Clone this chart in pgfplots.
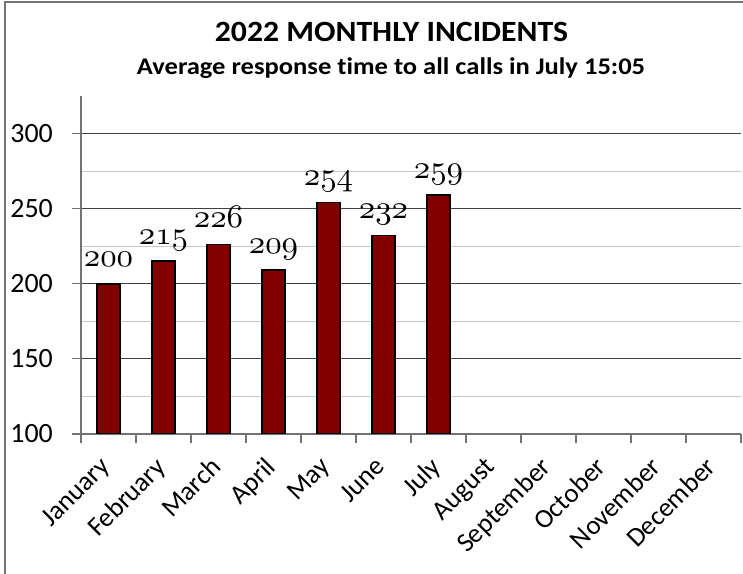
\documentclass[border=0pt]{standalone}
\usepackage{pgfplots}
\pgfplotsset{compat=1.18}
\usepackage{graphicx}
\usepackage{fontspec}
\setmainfont{Carlito}[Ligatures=NoCommon]
\newfontfamily\titlefont{Carlito}[FakeStretch=1.08, Ligatures=NoCommon]
\newfontfamily\subfont{Carlito}[FakeStretch=1.11, Ligatures=NoCommon]
\newcommand\osn[1]{\scalebox{3.3}{\fontsize{10}{12}\usefont{OML}{lmm}{m}{it}#1}}
\definecolor{barred}{RGB}{128,0,0}
\begin{document}
\begin{tikzpicture}[x=1bp,y=1bp]
\useasboundingbox (0,0) rectangle (743,574);
\draw[black!55, line width=1.2bp] (5,-10) rectangle (760,572);
\node[anchor=base, inner sep=0, font=\titlefont\fontsize{29.5}{32}\selectfont\bfseries] at (391.5,532) {2022 MONTHLY INCIDENTS};
\node[anchor=base, inner sep=0, font=\subfont\fontsize{24}{26}\selectfont\bfseries] at (391,499) {Average response time to all calls in July 15:05};
\begin{axis}[
  at={(81bp,140bp)}, anchor=south west,
  scale only axis, width=660bp, height=338bp,
  xmin=-0.5, xmax=11.5, ymin=100, ymax=325,
  axis x line*=bottom, axis y line*=left,
  axis line style={black!55, line width=1.2bp},
  ytick={100,150,...,300},
  minor ytick={125,175,...,275},
  ymajorgrids, yminorgrids,
  major grid style={black!75, line width=1bp},
  minor grid style={black!22, line width=1bp},
  tick align=outside,
  major tick length=9bp,
  minor tick length=9bp,
  major y tick style={black!55, line width=1.2bp},
  minor y tick style={draw=none},
  major x tick style={draw=none},
  minor x tick style={black!55, line width=1.2bp},
  xtick={0,...,11},
  minor xtick={-0.5,0.5,...,11.5},
  xticklabels={January,February,March,April,May,June,July,August,September,October,November,December},
  /pgf/number format/assume math mode=true,
  yticklabel style={font=\fontsize{28}{30}\selectfont, inner sep=0pt, xshift=-19bp},
  xticklabel style={font=\fontsize{27}{29}\selectfont, inner sep=1bp, xshift=-9.5bp, yshift=-11bp, rotate=45, anchor=north east},
  ybar, bar width=23bp,
  point meta=explicit symbolic,
  nodes near coords={\osn{\pgfplotspointmeta}},
  every node near coord/.append style={anchor=base, yshift=17bp, inner sep=0pt, black},
]
\addplot[fill=barred, draw=black, line width=1.5bp] coordinates {
(0,200) [200]
(1,215) [215]
(2,226) [226]
(3,209) [209]
(4,254) [254]
(5,232) [232]
(6,259) [259]
};
\end{axis}
\end{tikzpicture}
\end{document}
